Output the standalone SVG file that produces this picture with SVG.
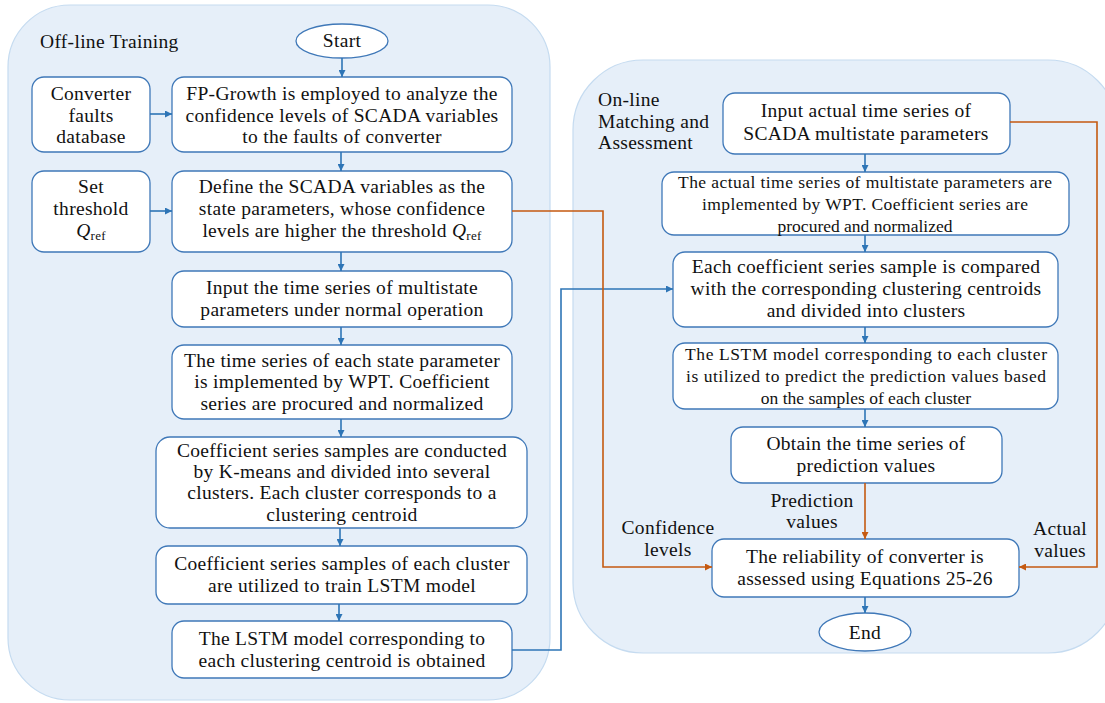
<svg xmlns="http://www.w3.org/2000/svg" width="1105" height="703" viewBox="0 0 1105 703">
<defs>
<marker id="ab" viewBox="0 0 10 10" refX="10" refY="5" markerWidth="7" markerHeight="7" markerUnits="userSpaceOnUse" orient="auto"><path d="M0,0 L10,5 L0,10 z" fill="#2e75b6"/></marker>
<marker id="ao" viewBox="0 0 10 10" refX="10" refY="5" markerWidth="7" markerHeight="7" markerUnits="userSpaceOnUse" orient="auto"><path d="M0,0 L10,5 L0,10 z" fill="#c55a11"/></marker>
<style>
.panel{fill:#e6eff9;stroke:#c5dbf0;stroke-width:1.2}
.box{fill:#fff;stroke:#3f78b8;stroke-width:1.3}
.t{font-family:"Liberation Serif","DejaVu Serif",serif;font-size:19.5px;letter-spacing:0.3px;fill:#111;text-anchor:middle}
.tl{font-family:"Liberation Serif","DejaVu Serif",serif;font-size:19.5px;letter-spacing:0.3px;fill:#111}
.ts{font-family:"Liberation Serif",serif;font-size:17.5px;fill:#111;text-anchor:middle}
.cb{fill:none;stroke:#2e75b6;stroke-width:1.6}
.co{fill:none;stroke:#c55a11;stroke-width:1.6}
</style>
</defs>
<g id="panels">
<rect class="panel" x="8" y="5" width="542" height="695" rx="62"/>
<rect class="panel" x="573" y="60" width="545" height="593" rx="70"/>
<text class="tl" x="40" y="48">Off-line Training</text>
<text class="tl" x="598" y="106">On-line</text>
<text class="tl" x="598" y="128">Matching and</text>
<text class="tl" x="598" y="149">Assessment</text>
</g>
<g id="start"><ellipse class="box" cx="342" cy="41" rx="46" ry="17"/><text class="t" x="342" y="47">Start</text></g>
<g id="db"><rect class="box" x="32" y="77" width="118" height="75" rx="12"/>
<text class="t" x="91" y="100">Converter</text><text class="t" x="91" y="122">faults</text><text class="t" x="91" y="143">database</text></g>
<g id="fp"><rect class="box" x="172" y="77" width="340" height="75" rx="12"/>
<text class="t" x="342" y="100">FP-Growth is employed to analyze the</text><text class="t" x="342" y="122">confidence levels of SCADA variables</text><text class="t" x="342" y="143">to the faults of converter</text></g>
<g id="thr"><rect class="box" x="32" y="171" width="118" height="81" rx="12"/>
<text class="t" x="91" y="193">Set</text><text class="t" x="91" y="215">threshold</text><text class="t" x="91" y="237"><tspan font-style="italic">Q</tspan><tspan font-size="13" dy="3">ref</tspan></text></g>
<g id="def"><rect class="box" x="172" y="171" width="340" height="81" rx="12"/>
<text class="t" x="342" y="193">Define the SCADA variables as the</text><text class="t" x="342" y="215">state parameters, whose confidence</text><text class="t" x="342" y="237">levels are higher the threshold <tspan font-style="italic">Q</tspan><tspan font-size="13" dy="3">ref</tspan></text></g>
<g id="inp"><rect class="box" x="172" y="271" width="340" height="56" rx="12"/>
<text class="t" x="342" y="294">Input the time series of multistate</text><text class="t" x="342" y="316">parameters under normal operation</text></g>
<g id="wpt"><rect class="box" x="172" y="345" width="340" height="74" rx="12"/>
<text class="t" x="342" y="367">The time series of each state parameter</text><text class="t" x="342" y="388">is implemented by WPT. Coefficient</text><text class="t" x="342" y="410">series are procured and normalized</text></g>
<g id="km"><rect class="box" x="156" y="437" width="371" height="91" rx="14"/>
<text class="t" x="342" y="457">Coefficient series samples are conducted</text><text class="t" x="342" y="478">by K-means and divided into several</text><text class="t" x="342" y="499">clusters. Each cluster corresponds to a</text><text class="t" x="342" y="521">clustering centroid</text></g>
<g id="train"><rect class="box" x="156" y="546" width="371" height="58" rx="12"/>
<text class="t" x="342" y="570">Coefficient series samples of each cluster</text><text class="t" x="342" y="592">are utilized to train LSTM model</text></g>
<g id="obt"><rect class="box" x="172" y="621" width="340" height="57" rx="12"/>
<text class="t" x="342" y="645">The LSTM model corresponding to</text><text class="t" x="342" y="667">each clustering centroid is obtained</text></g>
<g id="ina"><rect class="box" x="723" y="93" width="287" height="61" rx="12"/>
<text class="t" x="866" y="117">Input actual time series of</text><text class="t" x="866" y="140">SCADA multistate parameters</text></g>
<g id="awpt"><rect class="box" x="662" y="172" width="407" height="63" rx="12"/>
<text class="ts" x="865" y="188" textLength="374" lengthAdjust="spacing">The actual time series of multistate parameters are</text><text class="ts" x="865" y="210" textLength="326" lengthAdjust="spacing">implemented by WPT. Coefficient series are</text><text class="ts" x="865" y="232">procured and normalized</text></g>
<g id="cmp"><rect class="box" x="673" y="252" width="385" height="75" rx="12"/>
<text class="t" x="866" y="273">Each coefficient series sample is compared</text><text class="t" x="866" y="295">with the corresponding clustering centroids</text><text class="t" x="866" y="317">and divided into clusters</text></g>
<g id="pred"><rect class="box" x="673" y="343" width="385" height="66" rx="12"/>
<text class="ts" x="866" y="360" textLength="362" lengthAdjust="spacing">The LSTM model corresponding to each cluster</text><text class="ts" x="866" y="382" textLength="360" lengthAdjust="spacing">is utilized to predict the prediction values based</text><text class="ts" x="866" y="404">on the samples of each cluster</text></g>
<g id="ots"><rect class="box" x="731" y="427" width="271" height="56" rx="12"/>
<text class="t" x="866" y="450">Obtain the time series of</text><text class="t" x="866" y="472">prediction values</text></g>
<g id="rel"><rect class="box" x="712" y="539" width="307" height="58" rx="12"/>
<text class="t" x="865" y="563">The reliability of converter is</text><text class="t" x="865" y="585">assessed using Equations 25-26</text></g>
<g id="end"><ellipse class="box" cx="865" cy="632" rx="46" ry="19"/><text class="t" x="865" y="639">End</text></g>
<g id="labels">
<text class="t" x="812" y="507">Prediction</text><text class="t" x="812" y="528">values</text>
<text class="t" x="668" y="534">Confidence</text><text class="t" x="668" y="556">levels</text>
<text class="t" x="1060" y="535">Actual</text><text class="t" x="1060" y="557">values</text>
</g>
<g id="connectors">
<path class="cb" d="M342,58 V77" marker-end="url(#ab)"/>
<path class="cb" d="M341,152 V171" marker-end="url(#ab)"/>
<path class="cb" d="M150,114 H172" marker-end="url(#ab)"/>
<path class="cb" d="M150,211 H172" marker-end="url(#ab)"/>
<path class="cb" d="M341,252 V271" marker-end="url(#ab)"/>
<path class="cb" d="M341,327 V345" marker-end="url(#ab)"/>
<path class="cb" d="M341,419 V437" marker-end="url(#ab)"/>
<path class="cb" d="M340,528 V546" marker-end="url(#ab)"/>
<path class="cb" d="M339,604 V621" marker-end="url(#ab)"/>
<path class="cb" d="M512,650 H561 V289 H673" marker-end="url(#ab)"/>
<path class="cb" d="M865,154 V172" marker-end="url(#ab)"/>
<path class="cb" d="M865,235 V252" marker-end="url(#ab)"/>
<path class="cb" d="M865,327 V343" marker-end="url(#ab)"/>
<path class="cb" d="M865,409 V427" marker-end="url(#ab)"/>
<path class="cb" d="M865,597 V613" marker-end="url(#ab)"/>
<path class="co" d="M512,211 H603 V567 H712" marker-end="url(#ao)"/>
<path class="co" d="M1010,122 H1097 V567 H1019" marker-end="url(#ao)"/>
<path class="co" d="M865,483 V539" marker-end="url(#ao)"/>
</g>
</svg>
